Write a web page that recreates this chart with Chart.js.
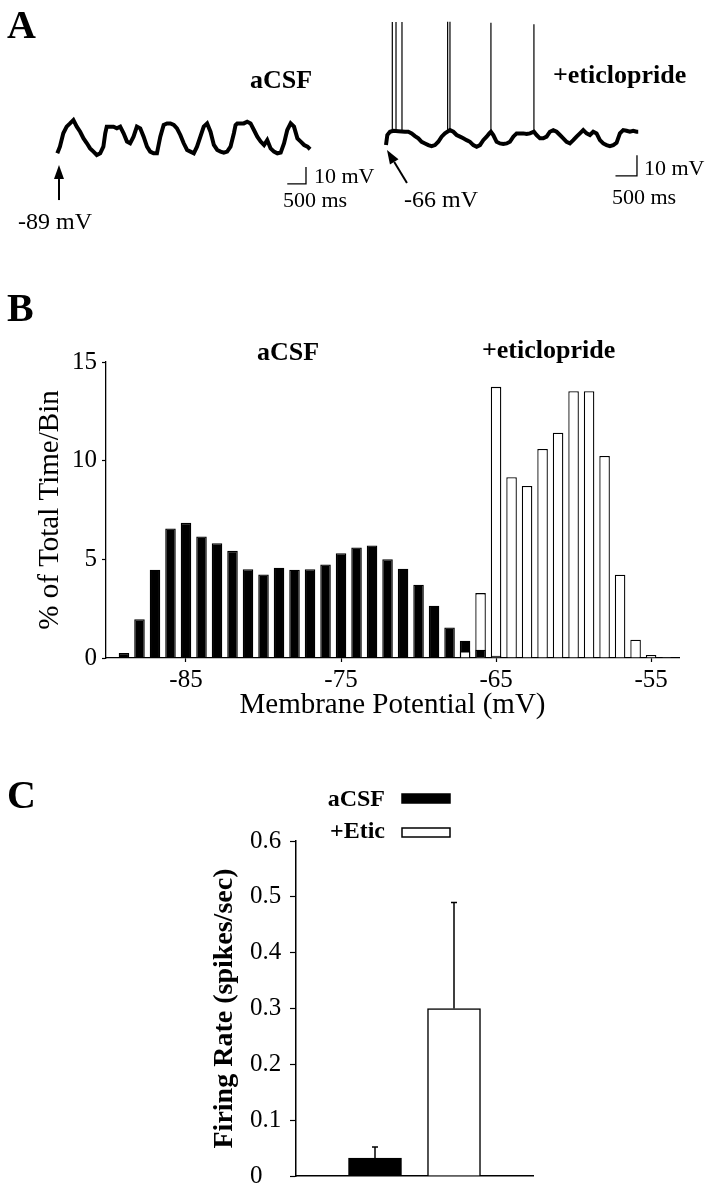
<!DOCTYPE html>
<html>
<head>
<meta charset="utf-8">
<script src="https://cdn.jsdelivr.net/npm/chart.js@4.4.1/dist/chart.umd.min.js"></script>
<style>
  html, body { margin: 0; padding: 0; background: #fff; }
  #page { position: relative; width: 708px; height: 1200px; overflow: hidden; }
  canvas { position: absolute; }
  svg { position: absolute; left: 0; top: 0; pointer-events: none; }
  svg text { font-family: 'Liberation Serif', 'Times New Roman', serif; fill: #000; }
  .b { font-weight: bold; }
</style>
</head>
<body>
<div id="page">
  <canvas id="traceCtl" width="290" height="180" style="left:40px;top:60px"></canvas>
  <canvas id="traceEtic" width="330" height="190" style="left:370px;top:10px"></canvas>
  <canvas id="histo" width="708" height="400" style="left:0;top:330px"></canvas>
  <canvas id="rate" width="708" height="420" style="left:0;top:780px"></canvas>
  <svg width="708" height="1200">
    <text class="b" x="7" y="38" font-size="40">A</text>
    <text class="b" x="250" y="88" font-size="26">aCSF</text>
    <text class="b" x="553" y="83" font-size="26">+eticlopride</text>
    <text x="18" y="229" font-size="24">-89 mV</text>
    <text x="314" y="183" font-size="22">10 mV</text>
    <text x="283" y="207" font-size="22">500 ms</text>
    <text x="404" y="207" font-size="24">-66 mV</text>
    <text x="644" y="175" font-size="22">10 mV</text>
    <text x="612" y="204" font-size="22">500 ms</text>
    <text class="b" x="7" y="321" font-size="40">B</text>
    <text class="b" x="257" y="360" font-size="26">aCSF</text>
    <text class="b" x="482" y="358" font-size="26">+eticlopride</text>
    <text class="b" x="7" y="808" font-size="40">C</text>
  </svg>
</div>
<script>
// A: whole-cell traces, time in ms, membrane potential in mV
const CTL_T = [0, 70, 160, 250, 340, 430, 520, 610, 700, 790, 875, 965, 1055, 1145, 1230, 1280, 1320, 1410, 1500, 1590,
  1680, 1770, 1860, 1945, 2035, 2125, 2215, 2305, 2395, 2480, 2570, 2660, 2750, 2840, 2930, 3020, 3110, 3195, 3285, 3375,
  3465, 3555, 3645, 3730, 3820, 3910, 4000, 4090, 4180, 4270, 4360, 4445, 4535, 4625, 4715, 4760, 4805, 4895, 4980, 5070,
  5160, 5250, 5340, 5430, 5520, 5605, 5695, 5785, 5875, 5965, 6055, 6140, 6230, 6320, 6410, 6500, 6590, 6680, 6750];
const CTL_V = [-89, -85.1, -77.2, -73.3, -71.4, -69.4, -73.3, -76.3, -80.2, -83.1, -86.1, -88, -90, -89, -85.1, -77.2, -73.3, -73.3, -73.3, -74.3,
  -73.3, -77.2, -82.1, -83.1, -79.2, -73.3, -74.3, -79.2, -85.1, -88, -89, -89, -79.2, -72.3, -71.4, -71.4, -72.3, -74.3, -78.2, -83.1,
  -87, -88, -89, -85.1, -79.2, -73.3, -71.4, -76.3, -84.1, -87, -88, -88.6, -88, -85.1, -77.2, -72.3, -71.4, -71.4, -71.4, -70.4,
  -71.4, -75.3, -79.2, -82.1, -84.1, -81.2, -86.1, -88, -89, -88.6, -83.1, -75.3, -71.4, -73.3, -80.2, -82.1, -84.1, -85.1, -86.6];

const ETIC_T = [0, 31, 93, 171, 287, 442, 519, 597, 674, 752, 829, 907, 984, 1062, 1139, 1217, 1294, 1372, 1488, 1566,
  1643, 1721, 1798, 1876, 1953, 2031, 2108, 2186, 2263, 2341, 2403, 2441, 2496, 2573, 2651, 2728, 2806, 2883, 2961, 3038,
  3116, 3193, 3271, 3348, 3441, 3503, 3581, 3658, 3736, 3813, 3891, 3968, 4046, 4123, 4201, 4278, 4356, 4433, 4511, 4588,
  4666, 4743, 4821, 4898, 4976, 5053, 5131, 5208, 5286, 5363, 5441, 5518, 5596, 5673, 5751, 5828, 5867];
const ETIC_V = [-66, -61.1, -59.5, -59, -59.2, -59.5, -59.5, -60.3, -61.6, -62.7, -64.4, -65.2, -66, -66.5, -66, -64.4, -61.9, -60.3, -58.7, -59.5,
  -61.1, -61.9, -62.7, -63.6, -64.4, -66, -66.8, -66, -63.6, -61.9, -60.3, -59.5, -61.1, -64.4, -65.2, -65.5, -65.2, -64.4, -61.9, -60.3,
  -60.3, -60.3, -60.6, -60.3, -59.5, -61.1, -62.7, -62.7, -61.9, -59.5, -58.7, -59.5, -61.1, -62.7, -64.4, -65.2, -63.6, -61.9, -60.3, -58.7,
  -60.3, -61.1, -59.5, -60.3, -63.6, -65.2, -66, -66.5, -66, -64.9, -60.3, -58.7, -59, -59.5, -59, -59.5, -59.5];

// action potentials in the eticlopride trace (clipped at the top)
const SPIKE_T = [147, 233, 372, 1434, 1488, 2441, 3441];
const SPIKE_BASE = [-59, -59, -59.3, -59.5, -58.7, -59.5, -59.5];
const SPIKE_PEAK = [-6, -6, -6, -5.8, -5.8, -6.3, -7];

const BAR_MS = 500;
const BAR_MV = 10;

// B: membrane potential histogram, 1 mV bins
const BIN_MV = [-89, -88, -87, -86, -85, -84, -83, -82, -81, -80, -79, -78, -77, -76, -75, -74, -73, -72,
  -71, -70, -69, -68, -67, -66, -65, -64, -63, -62, -61, -60, -59, -58, -57, -56, -55, -54];
const ACSF_PCT = [0.25, 1.97, 4.47, 6.56, 6.85, 6.16, 5.82, 5.43, 4.5, 4.23, 4.57, 4.47, 4.5, 4.74, 5.31, 5.6, 5.7, 5.01,
  4.52, 3.71, 2.65, 1.55, 0.88, 0.42, 0.12, 0.05, 0, 0, 0, 0, 0, 0, 0, 0, 0, 0];
const ETIC_PCT = [0, 0, 0, 0, 0, 0, 0, 0, 0, 0, 0, 0, 0, 0, 0, 0, 0, 0,
  0, 0, 0, 0, 0.34, 3.29, 13.74, 9.16, 8.72, 10.59, 11.42, 13.52, 13.52, 10.24, 4.22, 0.93, 0.15, 0.05];
const HIST_X_TICKS = [-85, -75, -65, -55];

// C: firing rate, mean and SEM
const GROUPS = ['aCSF', '+Etic'];
const RATES = [0.032, 0.30];
const SEMS = [0.02, 0.19];
const GROUP_FILL = ['#000', '#fff'];

Chart.defaults.font.family = "'Liberation Serif', 'Times New Roman', serif";
Chart.defaults.color = '#000';

const toPoints = (xs, ys) => xs.map((x, i) => ({ x, y: ys[i] }));

const traceDecor = {
  id: 'traceDecor',
  afterDatasetsDraw(chart, args, opts) {
    const { ctx, scales: { x, y } } = chart;
    ctx.save();
    ctx.strokeStyle = '#000';
    ctx.fillStyle = '#000';
    // scale bar
    ctx.lineWidth = 1.3;
    const bx1 = x.getPixelForValue(opts.barAt[0]);
    const bx0 = x.getPixelForValue(opts.barAt[0] - BAR_MS);
    const by0 = y.getPixelForValue(opts.barAt[1]);
    const by1 = y.getPixelForValue(opts.barAt[1] + BAR_MV);
    ctx.beginPath();
    ctx.moveTo(bx0, by0);
    ctx.lineTo(bx1, by0);
    ctx.lineTo(bx1, by1);
    ctx.stroke();
    // arrow to the starting potential
    const tx = x.getPixelForValue(opts.arrowTip[0]), ty = y.getPixelForValue(opts.arrowTip[1]);
    const sx = x.getPixelForValue(opts.arrowTail[0]), sy = y.getPixelForValue(opts.arrowTail[1]);
    const ang = Math.atan2(ty - sy, tx - sx);
    const head = 14, half = 5;
    const hx = tx - head * Math.cos(ang), hy = ty - head * Math.sin(ang);
    ctx.lineWidth = 2;
    ctx.beginPath();
    ctx.moveTo(sx, sy);
    ctx.lineTo(hx, hy);
    ctx.stroke();
    ctx.beginPath();
    ctx.moveTo(tx, ty);
    ctx.lineTo(hx + half * Math.sin(ang), hy - half * Math.cos(ang));
    ctx.lineTo(hx - half * Math.sin(ang), hy + half * Math.cos(ang));
    ctx.closePath();
    ctx.fill();
    ctx.restore();
  }
};

function traceChart(id, datasets, xRange, yRange, decor) {
  return new Chart(document.getElementById(id), {
    type: 'line',
    data: { datasets },
    options: {
      responsive: false,
      animation: false,
      events: [],
      layout: { padding: 0 },
      elements: { point: { radius: 0 }, line: { tension: 0 } },
      plugins: { legend: { display: false }, tooltip: { enabled: false }, traceDecor: decor },
      scales: {
        x: { type: 'linear', display: false, min: xRange[0], max: xRange[1] },
        y: { type: 'linear', display: false, min: yRange[0], max: yRange[1] },
      },
    },
    plugins: [traceDecor],
  });
}

traceChart('traceCtl', [{
  data: toPoints(CTL_T, CTL_V),
  borderColor: '#000',
  borderWidth: 4,
}], [-462, 7281], [-140, -34.1], {
  barAt: [6640, -107], arrowTip: [45, -95.9], arrowTail: [45, -116.5],
});

const spikePoints = SPIKE_T.flatMap((t, i) => [
  { x: t, y: SPIKE_BASE[i] }, { x: t, y: SPIKE_PEAK[i] }, { x: t, y: null },
]);

traceChart('traceEtic', [
  { data: toPoints(ETIC_T, ETIC_V), borderColor: '#000', borderWidth: 4 },
  { data: spikePoints, borderColor: '#000', borderWidth: 1.2, spanGaps: false },
], [-372, 7304], [-92.8, -0.1], {
  barAt: [5838, -81], arrowTip: [23, -68.4], arrowTail: [488, -84.5],
});

// B: the shorter bar of each bin is drawn in front of the taller one
const frontBars = BIN_MV.map((x, i) => ({
  x, y: ACSF_PCT[i] && ETIC_PCT[i] ? Math.min(ACSF_PCT[i], ETIC_PCT[i]) : null,
}));
const frontFill = BIN_MV.map((x, i) => (ACSF_PCT[i] <= ETIC_PCT[i] ? '#000' : '#fff'));
const backBars = BIN_MV.map((x, i) => ({ x, y: Math.max(ACSF_PCT[i], ETIC_PCT[i]) || null }));
const backFill = BIN_MV.map((x, i) => (ACSF_PCT[i] >= ETIC_PCT[i] ? '#000' : '#fff'));

const histBar = { borderColor: '#000', borderWidth: 1.3, grouped: false, barPercentage: 0.68, categoryPercentage: 1 };

new Chart(document.getElementById('histo'), {
  type: 'bar',
  data: {
    datasets: [
      { label: 'front', data: frontBars, backgroundColor: frontFill, ...histBar },
      { label: 'back', data: backBars, backgroundColor: backFill, ...histBar },
    ],
  },
  options: {
    responsive: false,
    animation: false,
    events: [],
    layout: { padding: { left: 0, top: 32, right: 29, bottom: 0 } },
    plugins: { legend: { display: false }, tooltip: { enabled: false } },
    scales: {
      x: {
        type: 'linear',
        min: -90.16,
        max: -53.2,
        offset: false,
        grid: { display: true, offset: false, drawOnChartArea: false, tickLength: 4, tickColor: '#000', tickWidth: 1.2 },
        border: { color: '#000', width: 1.3 },
        ticks: { font: { size: 25 }, padding: 3, color: '#000' },
        afterBuildTicks: (s) => { s.ticks = HIST_X_TICKS.map((v) => ({ value: v })); },
        afterFit: (s) => { s.height = 72; },
        title: { display: true, text: 'Membrane Potential (mV)', font: { size: 29, lineHeight: 1 }, padding: { top: 0, bottom: 10 }, color: '#000' },
      },
      y: {
        min: 0,
        max: 15,
        grid: { display: true, drawOnChartArea: false, tickLength: 4, tickColor: '#000', tickWidth: 1.2 },
        border: { color: '#000', width: 1.3 },
        ticks: { stepSize: 5, font: { size: 25 }, padding: 5, color: '#000' },
        afterFit: (s) => { s.width = 106; },
        title: { display: true, text: '% of Total Time/Bin', font: { size: 29, lineHeight: 1 }, padding: { top: 35.5, bottom: 0 }, color: '#000' },
      },
    },
  },
});

// C: error bars and the text-then-swatch legend
const errorBars = {
  id: 'errorBars',
  afterDatasetsDraw(chart) {
    const { ctx, scales: { y } } = chart;
    ctx.save();
    ctx.strokeStyle = '#000';
    ctx.lineWidth = 1.5;
    chart.data.datasets.forEach((ds, i) => {
      chart.getDatasetMeta(i).data.forEach((bar, j) => {
        if (ds.data[j] == null) return;
        const top = y.getPixelForValue(ds.data[j] + ds.errors[j]);
        ctx.beginPath();
        ctx.moveTo(bar.x, bar.y);
        ctx.lineTo(bar.x, top);
        ctx.moveTo(bar.x - 3, top);
        ctx.lineTo(bar.x + 3, top);
        ctx.stroke();
      });
    });
    ctx.restore();
  }
};

const sideLegend = {
  id: 'sideLegend',
  afterDraw(chart, args, opts) {
    const { ctx } = chart;
    ctx.save();
    ctx.font = "bold 24px 'Liberation Serif', serif";
    ctx.textAlign = 'right';
    ctx.textBaseline = 'alphabetic';
    chart.data.datasets.forEach((ds, i) => {
      ctx.fillStyle = '#000';
      ctx.fillText(ds.label, opts.textRight, opts.baselines[i]);
      ctx.fillStyle = ds.backgroundColor;
      ctx.fillRect(opts.boxLeft, opts.boxTops[i], opts.boxW, opts.boxH);
      ctx.strokeStyle = '#000';
      ctx.lineWidth = 1.5;
      ctx.strokeRect(opts.boxLeft, opts.boxTops[i], opts.boxW, opts.boxH);
    });
    ctx.restore();
  }
};

const rateSlots = ['', ...GROUPS, ''];

new Chart(document.getElementById('rate'), {
  type: 'bar',
  data: {
    labels: rateSlots,
    datasets: GROUPS.map((g, i) => ({
      label: g,
      data: rateSlots.map((s) => (s === g ? RATES[i] : null)),
      errors: rateSlots.map((s) => (s === g ? SEMS[i] : null)),
      backgroundColor: GROUP_FILL[i],
      borderColor: '#000',
      borderWidth: 1.5,
      grouped: false,
      barThickness: 53,
    })),
  },
  options: {
    responsive: false,
    animation: false,
    events: [],
    layout: { padding: { left: 250, top: 61, right: 175, bottom: 0 } },
    plugins: {
      legend: { display: false },
      tooltip: { enabled: false },
      // canvas starts at page y = 780
      sideLegend: { textRight: 385, baselines: [26, 58], boxLeft: 402, boxTops: [14, 48], boxW: 48, boxH: 9 },
    },
    scales: {
      x: {
        offset: false,
        grid: { display: false },
        ticks: { display: false },
        border: { color: '#000', width: 1.5 },
        afterFit: (s) => { s.height = 17; },
      },
      y: {
        min: 0,
        max: 0.6,
        grid: { display: true, drawOnChartArea: false, tickLength: 6, tickColor: '#000', tickWidth: 1.2 },
        border: { color: '#000', width: 1.5 },
        ticks: { stepSize: 0.1, font: { size: 25 }, padding: 9, crossAlign: 'far', color: '#000' },
        afterFit: (s) => { s.width = 46; },
        title: { display: true, text: 'Firing Rate (spikes/sec)', font: { size: 28, weight: 'bold', lineHeight: 1 }, padding: { top: -39, bottom: 0 }, color: '#000' },
      },
    },
  },
  plugins: [errorBars, sideLegend],
});
</script>
</body>
</html>
